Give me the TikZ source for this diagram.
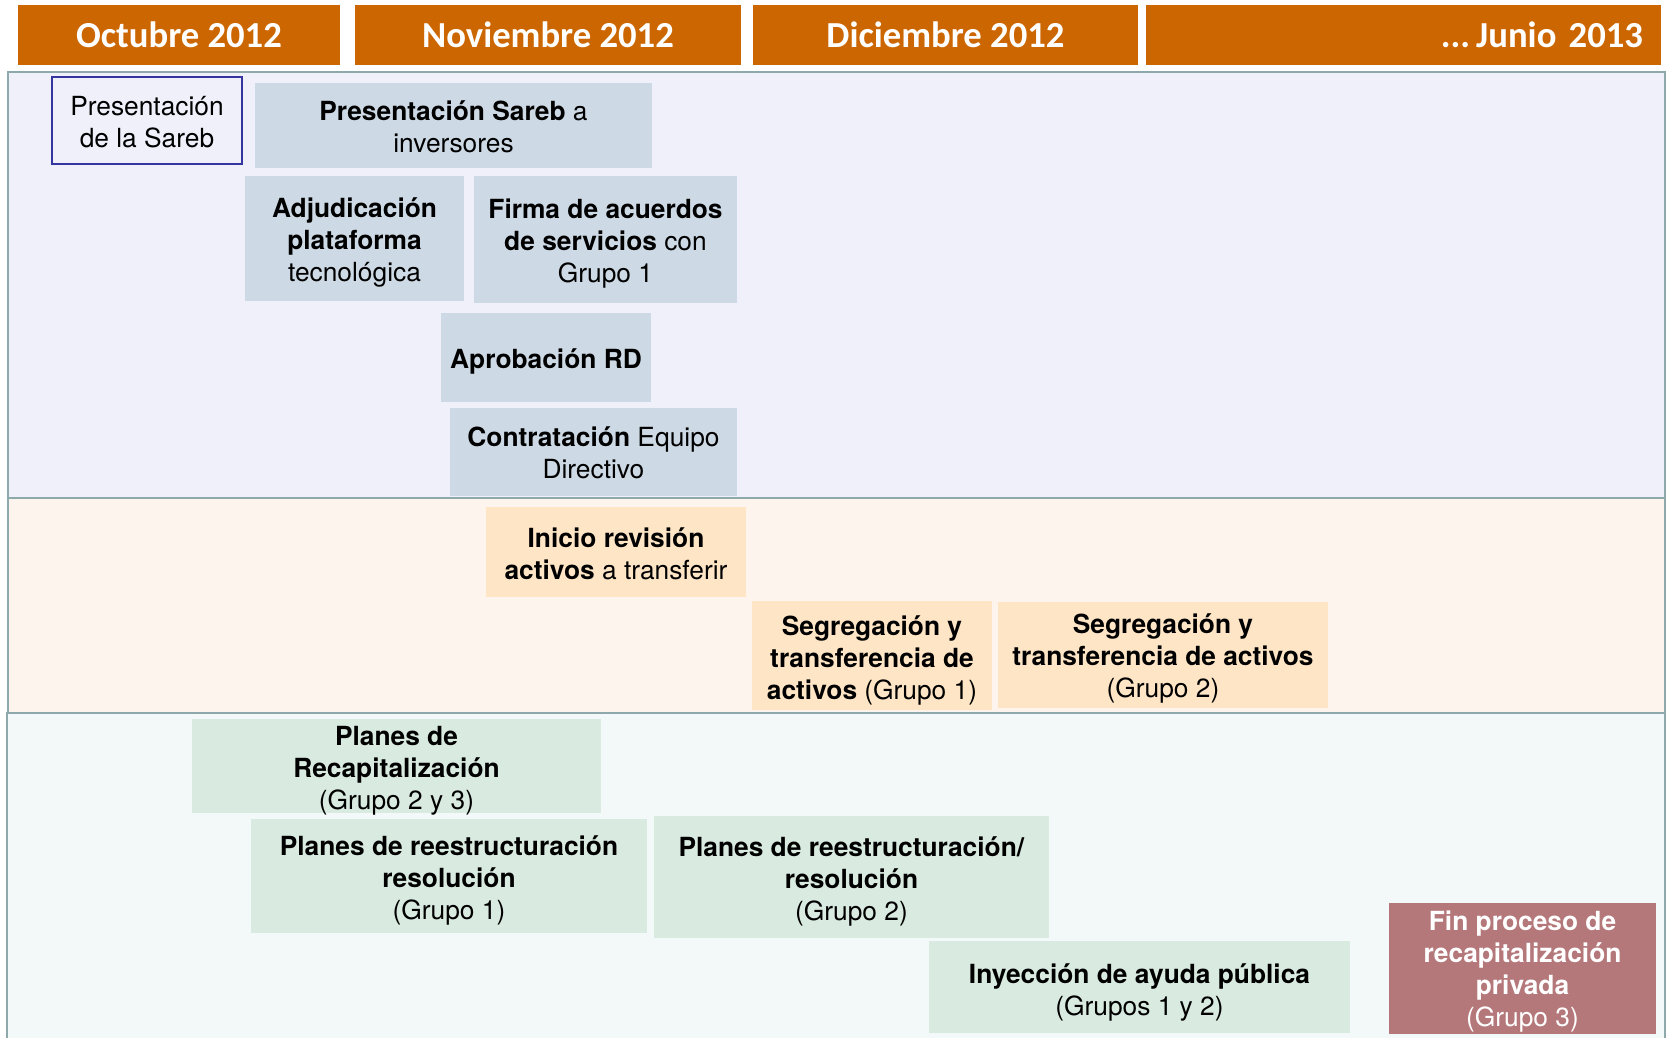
\documentclass[tikz,border=0pt]{standalone}
\usepackage{fontspec}
\setmainfont{TeX Gyre Heros}
\newfontfamily\arialfont{TeX Gyre Heros}
\newfontfamily\hdrfont{Carlito}
\definecolor{hdr}{HTML}{CC6600}
\definecolor{panelborder}{HTML}{8EA9AC}
\definecolor{pA}{HTML}{F0F0FA}
\definecolor{pB}{HTML}{FDF4EE}
\definecolor{pC}{HTML}{F3F9F9}
\definecolor{bA}{HTML}{CDD9E4}
\definecolor{bB}{HTML}{FDE5C6}
\definecolor{bC}{HTML}{D9EAE0}
\definecolor{bD}{HTML}{B5787A}
\definecolor{navy}{HTML}{3535A0}
\tikzset{
  hdrbox/.style={fill=hdr, inner sep=0pt, text=white, font=\hdrfont\bfseries\fontsize{22}{26}\selectfont},
  panel/.style={draw=panelborder, line width=1.2pt},
  tbox/.style={inner sep=0pt, align=center, text=black, font=\arialfont\fontsize{15.8}{19.2}\selectfont},
  wtext/.style={text=white},
  btext/.style n args={2}{label={[tbox, yshift=-#1*0.6pt]center:{#2}}},
  wbtext/.style n args={2}{label={[tbox, text=white, yshift=-#1*0.6pt]center:{#2}}},
  bluebox/.style={inner sep=0pt, fill=bA},
  peachbox/.style={inner sep=0pt, fill=bB},
  greenbox/.style={inner sep=0pt, fill=bC},
  rosebox/.style={inner sep=0pt, fill=bD},
  outlinebox/.style={inner sep=0pt, fill=pA, draw=navy, line width=1.2pt},
}
\begin{document}
\begin{tikzpicture}[x=0.6pt, y=-0.6pt]
\useasboundingbox (0,0) rectangle (1667,1037);
\clip (0,0) rectangle (1667,1037);
\fill[white] (0,0) rectangle (1667,1037);
% headers
\node[hdrbox, minimum width=322*0.6pt, minimum height=60*0.6pt] (h1) at (179,35) {Octubre 2012};
\node[hdrbox, minimum width=386*0.6pt, minimum height=60*0.6pt] (h2) at (548,35) {Noviembre 2012};
\node[hdrbox, minimum width=385*0.6pt, minimum height=60*0.6pt] (h3) at (945.5,35) {Diciembre 2012};
\node[hdrbox, minimum width=515*0.6pt, minimum height=60*0.6pt, text width=480*0.6pt, align=right] (h4) at (1403,35) {...\,Junio 2013};
% panels
\draw[panel, fill=pA] (8,72) rectangle (1665,498);
\draw[panel, fill=pB] (8,498) rectangle (1665,713);
\draw[panel, fill=pC] (7,713) rectangle (1665,1045);
% boxes
\node[outlinebox, minimum width=190*0.6pt, minimum height=87*0.6pt, btext={2}{Presentación\\de la Sareb}] (pres) at (147,120.5) {};
\node[bluebox, minimum width=397*0.6pt, minimum height=85*0.6pt, btext={1}{\textbf{Presentación Sareb} a\\inversores}] (inv) at (453.5,125.5) {};
\node[bluebox, minimum width=219*0.6pt, minimum height=125*0.6pt, btext={4}{\textbf{Adjudicación}\\\textbf{plataforma}\\tecnológica}] (adj) at (354.5,238.5) {};
\node[bluebox, minimum width=263*0.6pt, minimum height=127*0.6pt, btext={4}{\textbf{Firma de acuerdos}\\\textbf{de servicios} con\\Grupo 1}] (firma) at (605.5,239.5) {};
\node[bluebox, minimum width=210*0.6pt, minimum height=89*0.6pt, btext={4}{\textbf{Aprobación RD}}] (rd) at (546,357.5) {};
\node[bluebox, minimum width=287*0.6pt, minimum height=88*0.6pt, btext={1}{\textbf{Contratación} Equipo\\Directivo}] (contr) at (593.5,452) {};
\node[peachbox, minimum width=260*0.6pt, minimum height=90*0.6pt, btext={2}{\textbf{Inicio revisión}\\\textbf{activos} a transferir}] (inicio) at (616,552) {};
\node[peachbox, minimum width=240*0.6pt, minimum height=109*0.6pt, btext={5}{\textbf{Segregación y}\\\textbf{transferencia de}\\\textbf{activos} (Grupo 1)}] (seg1) at (872,655.5) {};
\node[peachbox, minimum width=330*0.6pt, minimum height=106*0.6pt, btext={3}{\textbf{Segregación y}\\\textbf{transferencia de activos}\\(Grupo 2)}] (seg2) at (1163,655) {};
\node[greenbox, minimum width=409*0.6pt, minimum height=94*0.6pt, btext={5}{\textbf{Planes de}\\\textbf{Recapitalización}\\(Grupo 2 y 3)}] (recap) at (396.5,766) {};
\node[greenbox, minimum width=396*0.6pt, minimum height=114*0.6pt, btext={4}{\textbf{Planes de reestructuración}\\\textbf{resolución}\\(Grupo 1)}] (reest1) at (449,876) {};
\node[greenbox, minimum width=395*0.6pt, minimum height=122*0.6pt, btext={4}{\textbf{Planes de reestructuración/}\\\textbf{resolución}\\(Grupo 2)}] (reest2) at (851.5,877) {};
\node[greenbox, minimum width=421*0.6pt, minimum height=92*0.6pt, btext={5}{\textbf{Inyección de ayuda pública}\\(Grupos 1 y 2)}] (iny) at (1139.5,987) {};
\node[rosebox, minimum width=267*0.6pt, minimum height=131*0.6pt, wbtext={3}{\textbf{Fin proceso de}\\\textbf{recapitalización}\\\textbf{privada}\\(Grupo 3)}] (fin) at (1522.5,968.5) {};
\end{tikzpicture}
\end{document}
